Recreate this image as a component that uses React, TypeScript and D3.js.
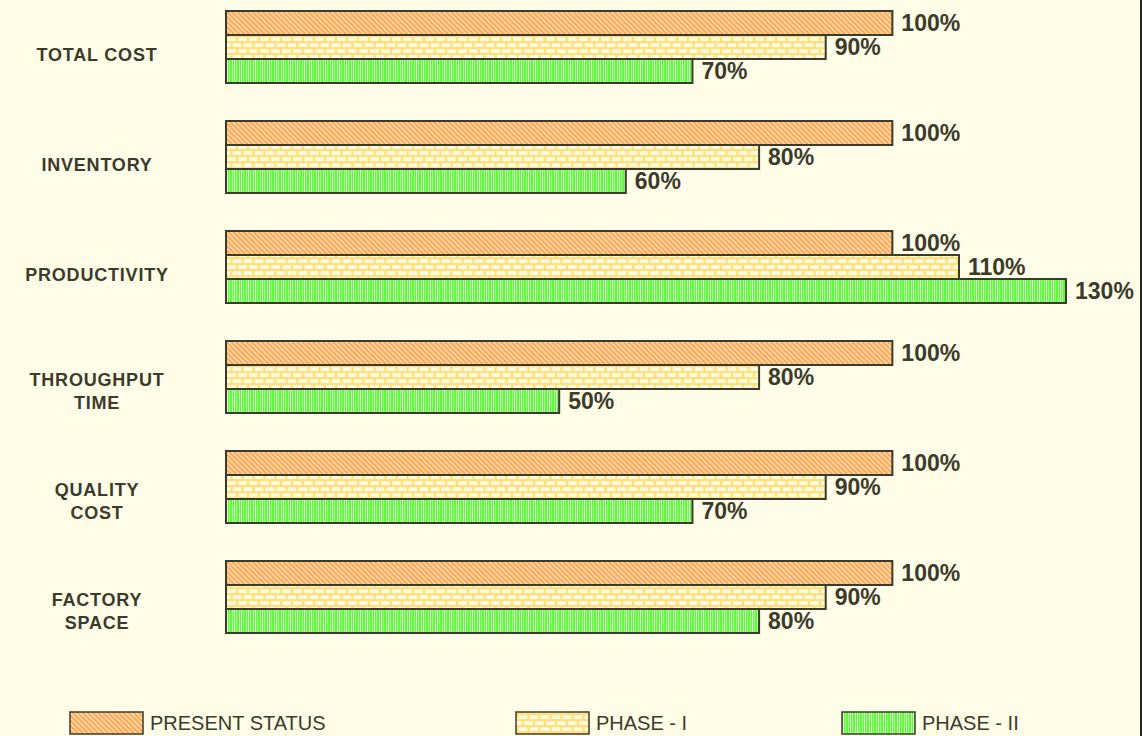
import React from "react";
import { scaleLinear, scaleBand } from "d3";

// chart data
const categories = [
  ["TOTAL COST"],
  ["INVENTORY"],
  ["PRODUCTIVITY"],
  ["THROUGHPUT", "TIME"],
  ["QUALITY", "COST"],
  ["FACTORY", "SPACE"],
];
const seriesNames = ["PRESENT STATUS", "PHASE - I", "PHASE - II"];
const presentStatus = [100, 100, 100, 100, 100, 100];
const phaseOne = [90, 80, 110, 80, 90, 90];
const phaseTwo = [70, 60, 130, 50, 70, 80];
const seriesValues = [presentStatus, phaseOne, phaseTwo];

const W = 1142;
const H = 736;
const ink = "#3b3b2c";
const bg = "#fffde8";
const fills = ["url(#diag)", "url(#brick)", "url(#vstripe)"];
const legendX = [70, 516, 842];

const App = () => {
  const keys = categories.map((c) => c.join(" "));

  // the original drawing squeezes the 130% bar a little, hence the extra stop
  const xScale = scaleLinear().domain([0, 110, 130]).range([226, 959, 1066]);

  const yScale = scaleBand().domain(keys).range([11, 633]).paddingInner(38 / 110);

  const inner = scaleBand()
    .domain(seriesNames)
    .range([0, yScale.bandwidth()]);

  const groups = categories.map((lines, ci) => {
    const key = keys[ci];
    const y0 = yScale(key);
    const mid = y0 + yScale.bandwidth() / 2;
    return (
      <g key={key}>
        {seriesNames.map((s, si) => {
          const v = seriesValues[si][ci];
          const y = y0 + inner(s);
          return (
            <g key={s}>
              <rect
                x={xScale(0)}
                y={y}
                width={xScale(v) - xScale(0)}
                height={inner.bandwidth()}
                fill={fills[si]}
                stroke={ink}
                strokeWidth="2"
              ></rect>
              <text
                x={xScale(v) + 9}
                y={y + inner.bandwidth() / 2}
                dominantBaseline="central"
                fontSize="23px"
                fontWeight="bold"
                fill={ink}
              >
                {v}%
              </text>
            </g>
          );
        })}
        {lines.map((l, li) => (
          <text
            key={l}
            x={97}
            y={mid + 8 - (lines.length - 1) * 5 + li * 23}
            textAnchor="middle"
            dominantBaseline="central"
            fontSize="18px"
            fontWeight="bold"
            letterSpacing="0.8"
            fill={ink}
          >
            {l}
          </text>
        ))}
      </g>
    );
  });

  const legend = seriesNames.map((s, i) => (
    <g key={s}>
      <rect x={legendX[i]} y={712} width={73} height={22} fill={fills[i]} stroke={ink} strokeWidth="1.5"></rect>
      <text x={legendX[i] + 80} y={723} dominantBaseline="central" fontSize="20px" fill={ink}>
        {s}
      </text>
    </g>
  ));

  return (
    <svg
      width={W}
      height={H}
      viewBox={`0 0 ${W} ${H}`}
      style={{ position: "fixed", left: 0, top: 0, fontFamily: "'Liberation Sans', Arial, sans-serif" }}
    >
      <defs>
        <pattern id="diag" patternUnits="userSpaceOnUse" width="3.6" height="3.6" patternTransform="rotate(-45)">
          <rect width="3.6" height="3.6" fill="#ffdcb0"></rect>
          <rect width="2" height="3.6" fill="#ffa652"></rect>
        </pattern>
        <pattern id="brick" patternUnits="userSpaceOnUse" width="11" height="12" x="226" y="0">
          <rect width="11" height="12" fill="#ffe07a"></rect>
          <rect x="1.2" y="1.2" width="8.6" height="3.8" fill="#fffbe2"></rect>
          <rect x="-4.3" y="7.2" width="8.6" height="3.8" fill="#fffbe2"></rect>
          <rect x="6.7" y="7.2" width="8.6" height="3.8" fill="#fffbe2"></rect>
        </pattern>
        <pattern id="vstripe" patternUnits="userSpaceOnUse" width="7" height="10">
          <rect width="7" height="10" fill="#62fa40"></rect>
          <rect x="1" width="1" height="10" fill="#b8ffa4"></rect>
          <rect x="3" width="1" height="10" fill="#e4ffd8"></rect>
          <rect x="5" width="1" height="10" fill="#9cff84"></rect>
        </pattern>
      </defs>
      <rect width={W} height={H} fill={bg}></rect>
      <line x1={W - 1} x2={W - 1} y1={0} y2={H} stroke="#222" strokeWidth="2"></line>
      {groups}
      {legend}
    </svg>
  );
};

export default App;
